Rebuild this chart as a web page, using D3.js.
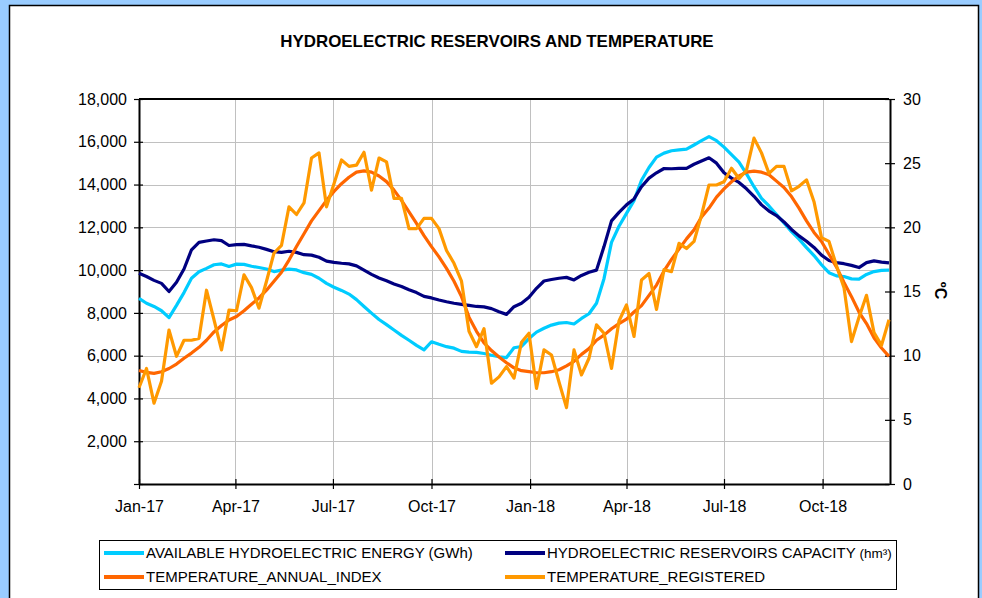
<!DOCTYPE html>
<html>
<head>
<meta charset="utf-8">
<script src="https://cdnjs.cloudflare.com/ajax/libs/d3/7.8.5/d3.min.js"></script>
<style>
  body { margin: 0; background: #99ccff; }
  svg { display: block; font-family: "Liberation Sans", Arial, sans-serif; }
</style>
</head>
<body>
<svg></svg>
<script>
var width = 982;
var height = 598;

var margin = { "top": 99,
               "bottom": 114,
               "left": 139,
               "right": 93 };

var plotW = width - margin.left - margin.right;
var plotH = height - margin.top - margin.bottom;

// weekly readings, first week starts 1 Jan 2017
var firstWeek = Date.UTC(2017, 0, 1);
var lastDay = Date.UTC(2018, 11, 2);

var availableEnergy = [8680, 8450, 8300, 8100, 7780, 8350, 8950, 9620, 9920, 10080,
  10250, 10290, 10170, 10280, 10270, 10180, 10120, 10050, 9930, 10000,
  10050, 10010, 9880, 9800, 9620, 9380, 9200, 9050, 8880, 8620,
  8300, 7990, 7690, 7450, 7200, 6950, 6720, 6480, 6270, 6650,
  6530, 6420, 6350, 6200, 6170, 6150, 6100, 6020, 5950, 5910,
  6370, 6430, 6800, 7100, 7280, 7430, 7520, 7550, 7480, 7740,
  7960, 8450, 9600, 11300, 12050, 12650, 13250, 14200, 14800, 15280,
  15470, 15580, 15620, 15660, 15850, 16050, 16240, 16050, 15750, 15400,
  15050, 14500, 13900, 13350, 13000, 12600, 12200, 11800, 11450, 11050,
  10680, 10250, 9880, 9730, 9700, 9590, 9580, 9800, 9930, 9990,
  10000];

var reservoirCapacity = [9850, 9700, 9520, 9380, 9000, 9430, 10050, 10950, 11300, 11360,
  11420, 11380, 11150, 11190, 11200, 11130, 11070, 10970, 10860, 10830,
  10880, 10830, 10720, 10700, 10600, 10420, 10360, 10320, 10290, 10200,
  10000, 9800, 9630, 9500, 9350, 9230, 9080, 8950, 8770, 8700,
  8600, 8520, 8450, 8400, 8350, 8300, 8280, 8200, 8050, 7930,
  8290, 8450, 8730, 9150, 9490, 9560, 9620, 9660, 9540, 9750,
  9900, 10000, 11100, 12300, 12700, 13050, 13330, 13900, 14300, 14550,
  14750, 14740, 14760, 14760, 14950, 15100, 15250, 15000, 14550, 14300,
  14100, 13800, 13450, 13050, 12760, 12550, 12250, 11900, 11600, 11350,
  11060, 10700, 10450, 10350, 10300, 10220, 10120, 10350, 10430, 10370,
  10340];

var tempAnnualIndex = [8.85, 8.7, 8.62, 8.75, 9.0, 9.35, 9.8, 10.2, 10.65, 11.2,
  11.85, 12.35, 12.78, 13.05, 13.5, 14.0, 14.5, 15.1, 15.8, 16.5,
  17.45, 18.5, 19.5, 20.5, 21.3, 22.1, 22.8, 23.4, 23.9, 24.3,
  24.4, 24.3, 24.0, 23.56, 22.9, 22.1, 21.2, 20.3, 19.35, 18.5,
  17.7, 16.8, 15.8, 14.6, 13.0, 11.9, 11.0, 10.4, 9.9, 9.45,
  9.05, 8.83, 8.75, 8.67, 8.67, 8.75, 8.9, 9.2, 9.55, 10.1,
  10.55, 11.2, 11.6, 12.1, 12.5, 12.85, 13.4, 13.9, 14.7, 15.5,
  16.6, 17.5, 18.3, 19.1, 19.8, 20.8, 21.5, 22.35, 23.0, 23.55,
  24.0, 24.3, 24.38, 24.3, 24.1, 23.6, 23.1, 22.4, 21.5, 20.5,
  19.6, 18.9, 17.9, 16.9, 15.7, 14.6, 13.4, 12.5, 11.4, 10.6,
  9.95];

var tempRegistered = [7.5, 9.0, 6.3, 8.0, 12.0, 9.95, 11.2, 11.2, 11.35, 15.1,
  12.8, 10.45, 13.55, 13.5, 16.3, 15.3, 13.7, 15.8, 18.0, 18.6,
  21.6, 21.0, 21.9, 25.4, 25.8, 21.6, 23.4, 25.25, 24.75, 24.85,
  25.85, 22.9, 25.4, 25.1, 22.25, 22.25, 19.9, 19.9, 20.7, 20.7,
  19.9, 18.2, 17.2, 15.8, 11.9, 10.7, 12.1, 7.85, 8.35, 9.15,
  8.25, 11.05, 11.75, 7.45, 10.45, 10.05, 7.95, 5.95, 10.45, 8.5,
  9.8, 12.4, 11.75, 9.0, 12.7, 13.95, 11.5, 15.9, 16.4, 13.6,
  16.7, 16.55, 18.75, 18.35, 18.9, 20.95, 23.3, 23.3, 23.55, 24.6,
  23.8, 24.45, 26.95, 25.8, 24.2, 24.75, 24.75, 22.85, 23.2, 23.7,
  22.0, 19.2, 18.9, 17.0, 15.3, 11.1, 13.0, 14.7, 11.8, 10.8,
  12.8];

var xTickDates = ["2017-01-01", "2017-04-01", "2017-07-01", "2017-10-01",
                  "2018-01-01", "2018-04-01", "2018-07-01", "2018-10-01"];
var leftTicks = [0, 2000, 4000, 6000, 8000, 10000, 12000, 14000, 16000, 18000];
var rightTicks = [0, 5, 10, 15, 20, 25, 30];

var series = [
  { "name": "AVAILABLE HYDROELECTRIC ENERGY (GWh)", "unit": "", "values": availableEnergy, "axis": "left", "color": "#00ccff" },
  { "name": "HYDROELECTRIC RESERVOIRS CAPACITY ", "unit": "(hm³)", "values": reservoirCapacity, "axis": "left", "color": "#000080" },
  { "name": "TEMPERATURE_ANNUAL_INDEX", "unit": "", "values": tempAnnualIndex, "axis": "right", "color": "#ff6600" },
  { "name": "TEMPERATURE_REGISTERED", "unit": "", "values": tempRegistered, "axis": "right", "color": "#ff9900" }
];

var weeks = availableEnergy.map(function(d, i) { return d3.utcDay.offset(new Date(firstWeek), 7 * i) });

var root = d3.select("svg")
             .attr("width", width)
             .attr("height", height);

// white panel with black frame
root.append("rect")
    .attr("x", 9.5)
    .attr("y", 5.5)
    .attr("width", 969)
    .attr("height", 600)
    .attr("fill", "#fff")
    .attr("stroke", "#000")
    .attr("stroke-width", 1.5);

root.append("text")
    .attr("x", 497)
    .attr("y", 47)
    .attr("text-anchor", "middle")
    .attr("font-weight", "bold")
    .attr("font-size", "16.9px")
    .text("HYDROELECTRIC RESERVOIRS AND TEMPERATURE");

var svg = root.append("g")
              .attr("transform", "translate(" + margin.left + "," + margin.top + ")");

var scaleX = d3.scaleUtc()
               .domain([new Date(firstWeek), new Date(lastDay)])
               .range([0, plotW]);

var scaleY = d3.scaleLinear()
               .domain([0, 18000])
               .range([plotH, 0]);

var scaleY2 = d3.scaleLinear()
                .domain([0, 30])
                .range([plotH, 0]);

var tickDates = xTickDates.map(function(s) { return d3.utcParse("%Y-%m-%d")(s) });

drawGrid();
xAxis(scaleX);
yAxis(scaleY);
yAxisRight(scaleY2);
series.forEach(drawLine);
drawLegend();

function drawGrid() {

  svg.selectAll(".hgrid")
     .data(leftTicks.filter(function(d) { return d > 0 && d < 18000 }))
     .enter()
     .append("line")
     .attr("x1", 0)
     .attr("x2", plotW)
     .attr("y1", function(d) { return Math.round(scaleY(d)) + 0.5 })
     .attr("y2", function(d) { return Math.round(scaleY(d)) + 0.5 })
     .attr("stroke", "#c0c0c0");

  svg.selectAll(".vgrid")
     .data(tickDates.slice(1))
     .enter()
     .append("line")
     .attr("x1", function(d) { return Math.round(scaleX(d)) + 0.5 })
     .attr("x2", function(d) { return Math.round(scaleX(d)) + 0.5 })
     .attr("y1", 0)
     .attr("y2", plotH)
     .attr("stroke", "#c0c0c0");

  // top edge of the plot area
  svg.append("line")
     .attr("x1", 0)
     .attr("x2", plotW)
     .attr("y1", 0)
     .attr("y2", 0)
     .attr("stroke", "#000")
     .attr("stroke-width", 2);
};

function styleAxis(g) {
  g.select(".domain").attr("stroke", "#000").attr("stroke-width", 2);
  g.selectAll(".tick line").attr("stroke", "#000").attr("stroke-width", 1.2);
  g.selectAll(".tick text")
   .attr("fill", "#000")
   .attr("font-size", "16px")
   .attr("font-family", "Liberation Sans, Arial, sans-serif");
};

function xAxis(scale) {

  var axis = d3.axisBottom(scale)
               .tickValues(tickDates)
               .tickFormat(d3.utcFormat("%b-%y"))
               .tickSizeInner(5)
               .tickSizeOuter(0)
               .tickPadding(12);

  var g = svg.append("g")
             .attr("transform", "translate(0," + plotH + ")")
             .call(axis);
  g.selectAll(".tick line").attr("y1", -5);
  styleAxis(g);
};

function yAxis(scale) {

  var fmt = d3.format(",");
  var axis = d3.axisLeft(scale)
               .tickValues(leftTicks)
               .tickFormat(function(d) { return d === 0 ? "" : fmt(d) })
               .tickSizeInner(5)
               .tickSizeOuter(0)
               .tickPadding(7);

  var g = svg.append("g").call(axis);
  g.selectAll(".tick line").attr("x1", 4);
  styleAxis(g);
};

function yAxisRight(scale) {

  var axis = d3.axisRight(scale)
               .tickValues(rightTicks)
               .tickSizeInner(5)
               .tickSizeOuter(0)
               .tickPadding(8);

  var g = svg.append("g")
             .attr("transform", "translate(" + (plotW + 1) + ",0)")
             .call(axis);
  g.selectAll(".tick line").attr("x1", -5);
  styleAxis(g);

  svg.append("text")
     .attr("transform", "translate(" + (plotW + 46) + "," + (plotH / 2 - 1) + ") rotate(90)")
     .attr("text-anchor", "middle")
     .attr("font-weight", "bold")
     .attr("font-size", "16px")
     .text("ºC");
};

function drawLine(s) {

  var yScale = s.axis === "left" ? scaleY : scaleY2;
  var line = d3.line()
               .x(function(d, i) { return scaleX(weeks[i]) })
               .y(function(d) { return yScale(d) });

  svg.append("path")
     .datum(s.values)
     .attr("d", line)
     .attr("fill", "none")
     .attr("stroke", s.color)
     .attr("stroke-width", 3.2)
     .attr("stroke-linejoin", "round");
};

function drawLegend() {

  var lg = root.append("g");

  lg.append("rect")
    .attr("x", 99.5)
    .attr("y", 540.5)
    .attr("width", 797)
    .attr("height", 49)
    .attr("fill", "#fff")
    .attr("stroke", "#000");

  var item = lg.selectAll(".item")
               .data(series)
               .enter()
               .append("g")
               .attr("transform", function(d, i) {
                 return "translate(" + (i % 2 === 0 ? 104 : 505) + "," + (i < 2 ? 553 : 577) + ")";
               });

  item.append("line")
      .attr("x1", 0)
      .attr("x2", 40)
      .attr("stroke", function(d) { return d.color })
      .attr("stroke-width", 4);

  var label = item.append("text")
                  .attr("x", 42)
                  .attr("dy", "0.35em")
                  .attr("font-size", "15px")
                  .text(function(d) { return d.name });

  label.append("tspan")
       .attr("font-size", "13.5px")
       .text(function(d) { return d.unit });
};
</script>
</body>
</html>
